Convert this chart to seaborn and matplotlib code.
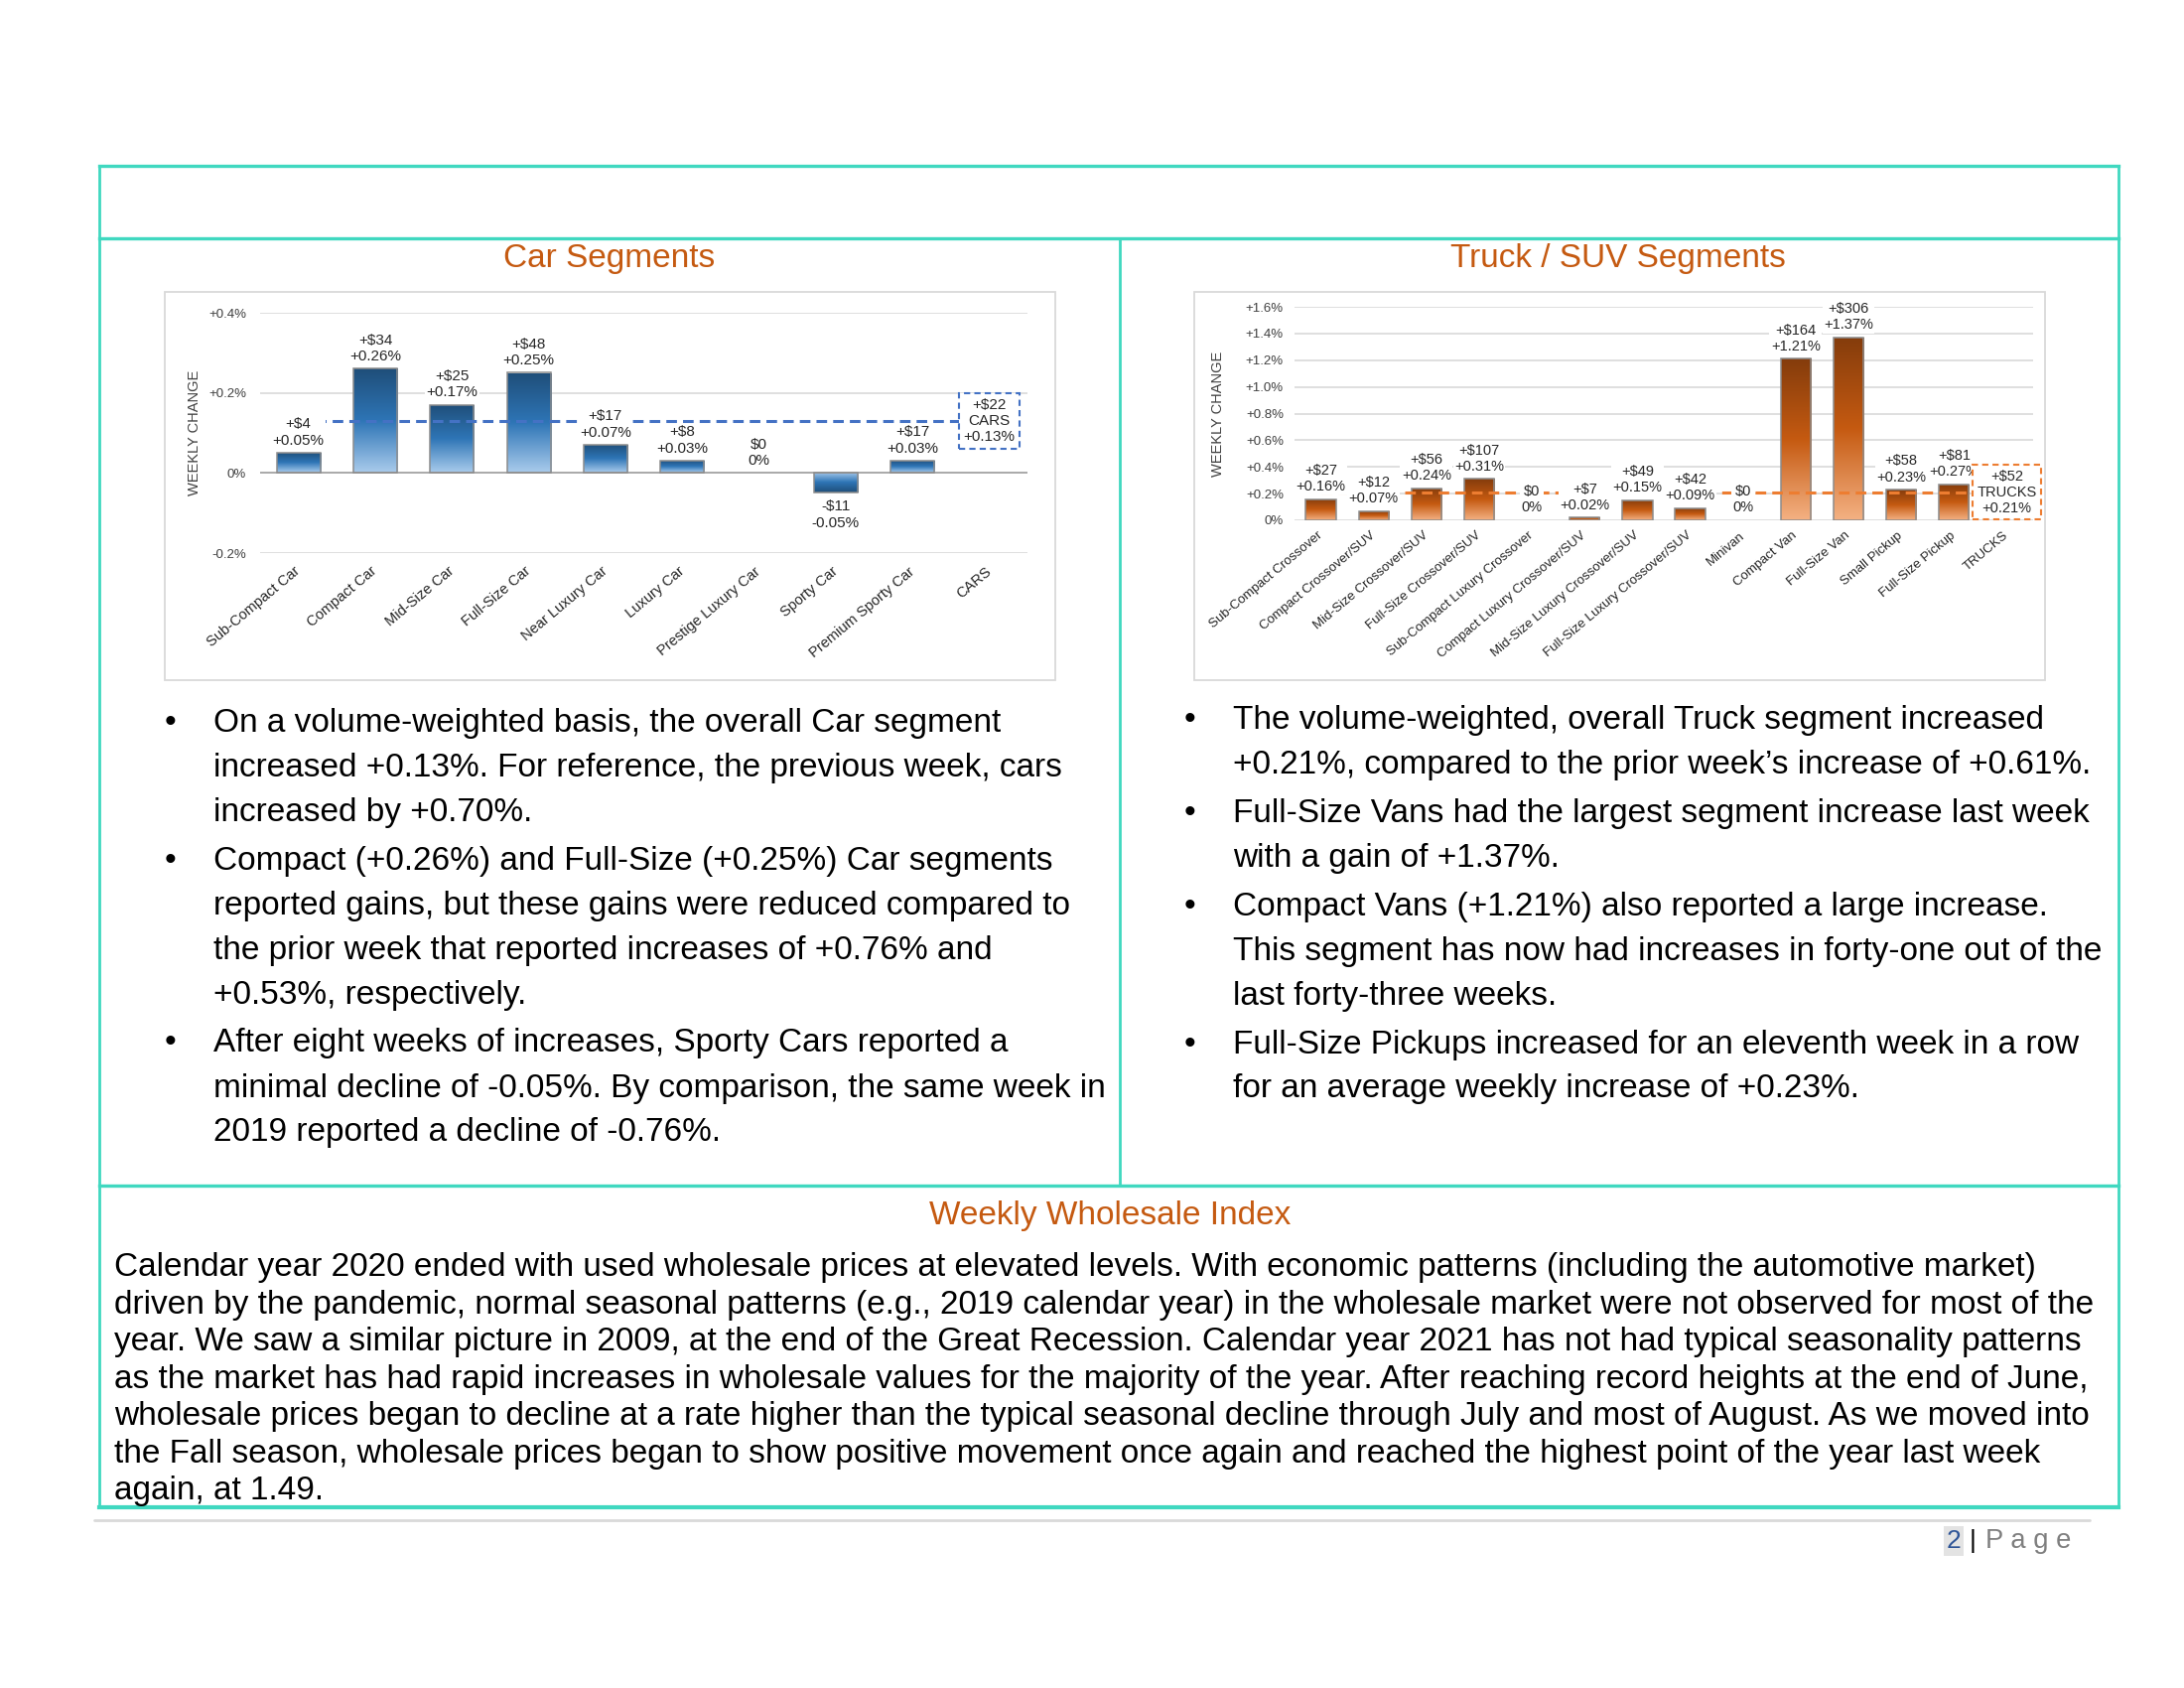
import numpy as np
import pandas as pd
import matplotlib
matplotlib.use("Agg")
import matplotlib.pyplot as plt
import seaborn as sns
from matplotlib.colors import LinearSegmentedColormap
from matplotlib.patches import Rectangle

# ---------------- data ----------------
car_segments = ["Sub-Compact Car", "Compact Car", "Mid-Size Car", "Full-Size Car",
                "Near Luxury Car", "Luxury Car", "Prestige Luxury Car", "Sporty Car",
                "Premium Sporty Car"]
car_pct = [0.05, 0.26, 0.17, 0.25, 0.07, 0.03, 0.00, -0.05, 0.03]
car_dollars = [4, 34, 25, 48, 17, 8, 0, -11, 17]
car_total_name = "CARS"
car_total_pct = 0.13
car_total_dollars = 22
car_yticks = [-0.2, 0.0, 0.2, 0.4]
car_yticklabels = ["-0.2%", "0%", "+0.2%", "+0.4%"]

truck_segments = ["Sub-Compact Crossover", "Compact Crossover/SUV", "Mid-Size Crossover/SUV",
                  "Full-Size Crossover/SUV", "Sub-Compact Luxury Crossover",
                  "Compact Luxury Crossover/SUV", "Mid-Size Luxury Crossover/SUV",
                  "Full-Size Luxury Crossover/SUV", "Minivan", "Compact Van", "Full-Size Van",
                  "Small Pickup", "Full-Size Pickup"]
truck_pct = [0.16, 0.07, 0.24, 0.31, 0.00, 0.02, 0.15, 0.09, 0.00, 1.21, 1.37, 0.23, 0.27]
truck_dollars = [27, 12, 56, 107, 0, 7, 49, 42, 0, 164, 306, 58, 81]
truck_total_name = "TRUCKS"
truck_total_pct = 0.21
truck_total_dollars = 52
truck_yticks = [0.0, 0.2, 0.4, 0.6, 0.8, 1.0, 1.2, 1.4, 1.6]
truck_yticklabels = ["0%", "+0.2%", "+0.4%", "+0.6%", "+0.8%", "+1.0%", "+1.2%", "+1.4%", "+1.6%"]

car_bullets = [
    ["On a volume-weighted basis, the overall Car segment",
     "increased +0.13%. For reference, the previous week, cars",
     "increased by +0.70%."],
    ["Compact (+0.26%) and Full-Size (+0.25%) Car segments",
     "reported gains, but these gains were reduced compared to",
     "the prior week that reported increases of +0.76% and",
     "+0.53%, respectively."],
    ["After eight weeks of increases, Sporty Cars reported a",
     "minimal decline of -0.05%. By comparison, the same week in",
     "2019 reported a decline of -0.76%."],
]
truck_bullets = [
    ["The volume-weighted, overall Truck segment increased",
     "+0.21%, compared to the prior week\u2019s increase of +0.61%."],
    ["Full-Size Vans had the largest segment increase last week",
     "with a gain of +1.37%."],
    ["Compact Vans (+1.21%) also reported a large increase.",
     "This segment has now had increases in forty-one out of the",
     "last forty-three weeks."],
    ["Full-Size Pickups increased for an eleventh week in a row",
     "for an average weekly increase of +0.23%."],
]
index_lines = [
    "Calendar year 2020 ended with used wholesale prices at elevated levels. With economic patterns (including the automotive market)",
    "driven by the pandemic, normal seasonal patterns (e.g., 2019 calendar year) in the wholesale market were not observed for most of the",
    "year. We saw a similar picture in 2009, at the end of the Great Recession. Calendar year 2021 has not had typical seasonality patterns",
    "as the market has had rapid increases in wholesale values for the majority of the year. After reaching record heights at the end of June,",
    "wholesale prices began to decline at a rate higher than the typical seasonal decline through July and most of August. As we moved into",
    "the Fall season, wholesale prices began to show positive movement once again and reached the highest point of the year last week",
    "again, at 1.49.",
]

# ---------------- style ----------------
sns.set_theme(style="white")
plt.rcParams["font.family"] = ["Liberation Sans", "DejaVu Sans"]

W, H = 2200, 1700
TEAL = "#40D8C0"
ORANGE_TXT = "#C55A11"

fig = plt.figure(figsize=(22, 17), dpi=100)
fig.patch.set_facecolor("white")
bg = fig.add_axes([0, 0, 1, 1])
bg.set_xlim(0, W)
bg.set_ylim(H, 0)
bg.axis("off")
bg.set_zorder(0)


def add_ax(l, t, r, b):
    return fig.add_axes([l / W, 1 - b / H, (r - l) / W, (b - t) / H])


# page frame
for (x0, y0, x1, y1, lw) in [(100, 167, 2134, 167, 2.4), (100, 240, 2134, 240, 2.4),
                             (1128, 240, 1128, 1194, 2.0), (100, 1194, 2134, 1194, 2.4),
                             (100, 1518, 2134, 1518, 3.0), (100, 167, 100, 1518, 2.0),
                             (2134, 167, 2134, 1518, 2.0)]:
    bg.plot([x0, x1], [y0, y1], color=TEAL, lw=lw, solid_capstyle="projecting")
bg.plot([95, 2105], [1531, 1531], color="#D9D9D9", lw=2)

# chart frames
bg.add_patch(Rectangle((166, 294), 897, 391, fc="white", ec="#D9D9D9", lw=1.3))
bg.add_patch(Rectangle((1203, 294), 857, 391, fc="white", ec="#D9D9D9", lw=1.3))

# section titles
bg.text(614, 260, "Car Segments", color=ORANGE_TXT, fontsize=24, ha="center", va="center")
bg.text(1630, 260, "Truck / SUV Segments", color=ORANGE_TXT, fontsize=24, ha="center", va="center")
bg.text(1118, 1225, "Weekly Wholesale Index", color=ORANGE_TXT, fontsize=24, ha="center", va="center")

# bullets
BODY = 24.0
def draw_bullets(bullets, bx, tx, y_start, step, gap):
    y = y_start
    for b in bullets:
        bg.text(bx, y, "\u2022", fontsize=BODY, ha="left", va="center", color="black")
        for line in b:
            bg.text(tx, y, line, fontsize=BODY, ha="left", va="center", color="black")
            y += step
        y += gap

draw_bullets(car_bullets, 166, 215, 728, 45, 4)
draw_bullets(truck_bullets, 1193, 1242, 725, 45, 4)

# wholesale index paragraph
for k, line in enumerate(index_lines):
    bg.text(115, 1277 + k * 37.4, line, fontsize=24.0, ha="left", va="center", color="black")

# footer
bg.text(1968, 1552, "2", fontsize=19, color="#2F5597", ha="center", va="center",
        bbox=dict(boxstyle="square,pad=0.1", fc="#E3E3E3", ec="none"))
bg.text(1987, 1552, "|", fontsize=19, color="black", ha="center", va="center")
bg.text(2000, 1552, "P a g e", fontsize=19.7, color="#7F7F7F", ha="left", va="center")


# ---------------- charts ----------------
def fmt_pct(v):
    return "0%" if v == 0 else f"{v:+.2f}%"


def fmt_usd(d):
    if d == 0:
        return "$0"
    return f"+${d}" if d > 0 else f"-${abs(d)}"


def gradient_bars(ax, colors):
    cmap = LinearSegmentedColormap.from_list("g", colors)
    grad = np.linspace(0, 1, 256).reshape(-1, 1)
    xl, yl = ax.get_xlim(), ax.get_ylim()
    for p in list(ax.patches):
        h = p.get_height()
        if not np.isfinite(h) or h == 0:
            p.set_edgecolor("none")
            p.set_facecolor("none")
            continue
        x0, y0, w = p.get_x(), p.get_y(), p.get_width()
        im = ax.imshow(grad, cmap=cmap, origin="lower", aspect="auto",
                       extent=(x0, x0 + w, y0, y0 + h), zorder=2, interpolation="bilinear")
        im.set_clip_path(p)
        p.set_facecolor("none")
        p.set_edgecolor("#8C8C8C")
        p.set_linewidth(1.1)
        p.set_zorder(3)
    ax.set_xlim(xl)
    ax.set_ylim(yl)


def make_chart(ax, segs, pct, usd, total_name, total_pct, total_usd, yticks, yticklabels,
               ylim, grad_colors, line_color, lab_fs, cat_fs, ylabel_x, tick_pad, cat_pad):
    order = segs + [total_name]
    df = pd.DataFrame({"segment": segs, "pct": pct})
    sns.barplot(data=df, x="segment", y="pct", order=order, ax=ax, width=0.57,
                color=grad_colors[1], errorbar=None, zorder=3)
    ax.set_ylim(*ylim)
    ax.set_xlim(-0.5, len(order) - 0.5)
    gradient_bars(ax, grad_colors)

    ax.set_yticks(yticks)
    ax.set_yticklabels(yticklabels, fontsize=9.5, color="#404040")
    for yv in yticks:
        ax.axhline(yv, color="#D9D9D9", lw=1.2, zorder=0.5)
    if ylim[0] < 0:
        ax.axhline(0, color="#A6A6A6", lw=1.3, zorder=2.5)
    ax.tick_params(axis="both", length=0)
    ax.tick_params(axis="y", pad=tick_pad)
    ax.tick_params(axis="x", pad=cat_pad)
    ax.set_xticks(range(len(order)))
    ax.set_xticklabels(order, rotation=40, ha="right", va="center", rotation_mode="anchor",
                       fontsize=cat_fs, color="#262626")
    ax.set_xlabel("")
    ax.set_ylabel("WEEKLY CHANGE", fontsize=10.5, color="#404040")
    ax.yaxis.set_label_coords(ylabel_x, 0.5)
    for s in ax.spines.values():
        s.set_visible(False)
    ax.patch.set_alpha(0)
    ax.set_zorder(1)

    # overall dashed line
    ax.plot([0, len(order) - 1], [total_pct, total_pct], ls=(0, (3.5, 2)), color=line_color,
            lw=2.2, zorder=4)

    # data labels
    for i, (v, d) in enumerate(zip(pct, usd)):
        txt = f"{fmt_usd(d)}\n{fmt_pct(v)}"
        if v >= 0:
            ax.annotate(txt, (i, v), xytext=(0, 4), textcoords="offset points", ha="center",
                        va="bottom", fontsize=lab_fs, color="#262626", zorder=5,
                        linespacing=1.2, annotation_clip=False,
                        bbox=dict(boxstyle="square,pad=0.1", fc="white", ec="none"))
        else:
            ax.annotate(txt, (i, v), xytext=(0, -5), textcoords="offset points", ha="center",
                        va="top", fontsize=lab_fs, color="#262626", zorder=5,
                        linespacing=1.2, annotation_clip=False,
                        bbox=dict(boxstyle="square,pad=0.1", fc="white", ec="none"))
    # total box
    ax.text(len(order) - 1, total_pct, f"{fmt_usd(total_usd)}\n{total_name}\n{fmt_pct(total_pct)}",
            ha="center", va="center", fontsize=lab_fs, color="#262626", zorder=6,
            linespacing=1.2,
            bbox=dict(boxstyle="square,pad=0.3", fc="white", ec=line_color, ls=(0, (3, 2)), lw=1.5))


ax_car = add_ax(262, 315, 1035, 557)
make_chart(ax_car, car_segments, car_pct, car_dollars, car_total_name, car_total_pct,
           car_total_dollars, car_yticks, car_yticklabels, (-0.2, 0.4),
           ["#A9CBEC", "#2E75B6", "#1F4E79"], "#4472C4", 11, 10.5,
           (203 - 262) / 773, 10, 12)

ax_truck = add_ax(1304, 309, 2048, 524)
make_chart(ax_truck, truck_segments, truck_pct, truck_dollars, truck_total_name, truck_total_pct,
           truck_total_dollars, truck_yticks, truck_yticklabels, (0, 1.6),
           ["#F4B183", "#C55A11", "#843C0C"], "#ED7D31", 10.5, 9.5,
           (1234 - 1304) / 744, 8, 10)

fig.savefig("out.png", dpi=100, facecolor="white")
